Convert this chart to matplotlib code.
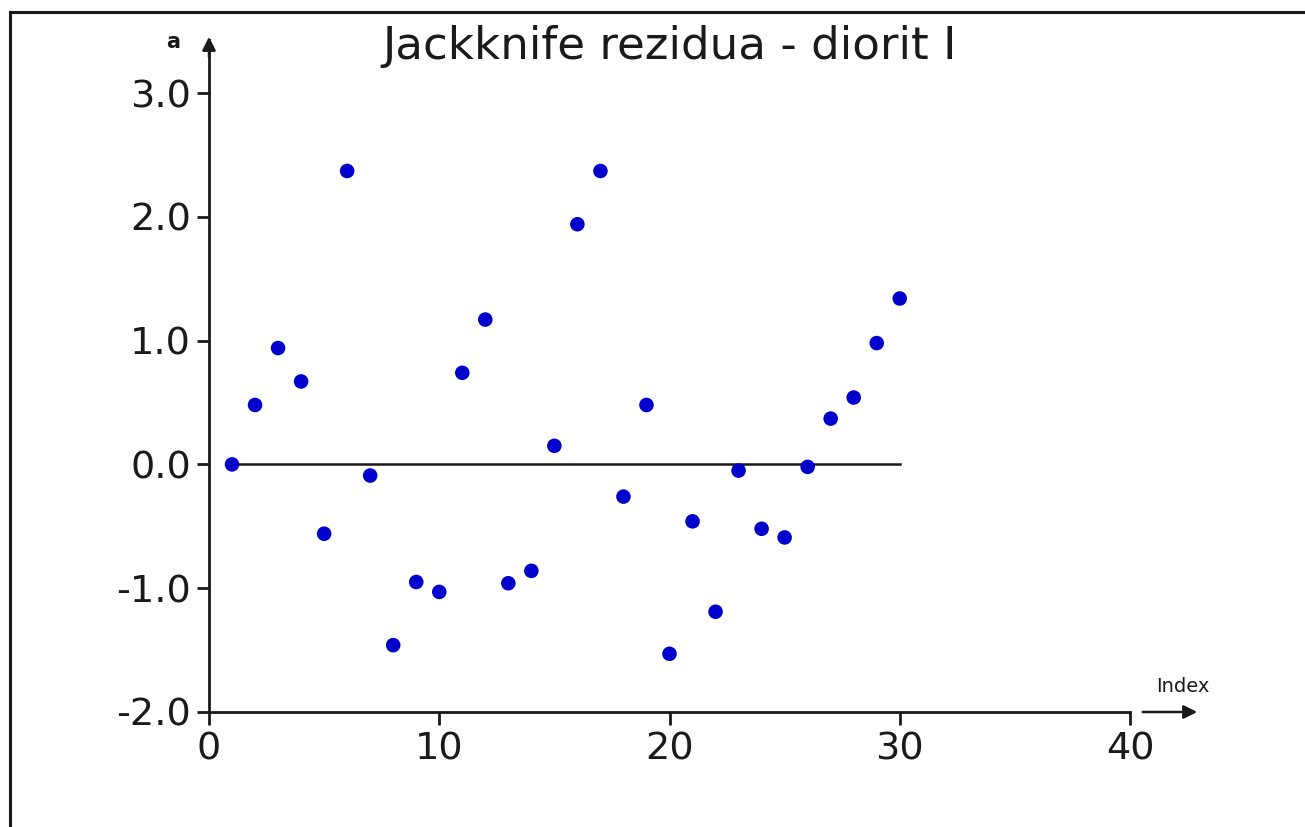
import matplotlib
matplotlib.use("Agg")
import matplotlib.pyplot as plt
from matplotlib.lines import Line2D

index = list(range(1, 31))
residua = [0.00, 0.48, 0.94, 0.67, -0.56, 2.37, -0.09, -1.46, -0.95, -1.03,
           0.74, 1.17, -0.96, -0.86, 0.15, 1.94, 2.37, -0.26, 0.48, -1.53,
           -0.46, -1.19, -0.05, -0.52, -0.59, -0.02, 0.37, 0.54, 0.98, 1.34]
xticks = [0, 10, 20, 30, 40]
yticks = [-2.0, -1.0, 0.0, 1.0, 2.0, 3.0]
title = "Jackknife rezidua - diorit I"

plt.rcParams['font.family'] = ['DejaVu Sans']

W, H = 1305, 827
fig = plt.figure(figsize=(W / 100, H / 100), dpi=100)
ax = fig.add_axes([209 / W, 1 - 712 / H, 921 / W, 619 / H])

ax.axhline(0, xmin=1 / 40, xmax=30 / 40, color='#1a1a1a', lw=1.8, zorder=2)
ax.scatter(index, residua, s=110, color='#0000cc', edgecolors='none', zorder=3)

ax.set_xlim(0, 40)
ax.set_ylim(-2, 3)
ax.set_xticks(xticks)
ax.set_xticklabels([str(t) for t in xticks])
ax.set_yticks(yticks)
ax.set_yticklabels([f"{t:.1f}" for t in yticks])
for s in ['top', 'right']:
    ax.spines[s].set_visible(False)
for s in ['left', 'bottom']:
    ax.spines[s].set_linewidth(2.0)
    ax.spines[s].set_color('#1a1a1a')
ax.tick_params(direction='out', length=9, width=2.0, color='#1a1a1a',
               labelsize=27.5, labelcolor='#1a1a1a')
ax.tick_params(axis='y', pad=4)
ax.tick_params(axis='x', pad=5)

# axis arrows
fig.add_artist(Line2D([209 / W, 209 / W], [1 - 93 / H, 1 - 40 / H],
                      color='#1a1a1a', lw=2.0))
ax.annotate('', xy=(209 / W, 1 - 34 / H), xytext=(209 / W, 1 - 60 / H),
            xycoords='figure fraction',
            arrowprops=dict(arrowstyle='-|>', color='#1a1a1a', lw=1.8,
                            mutation_scale=20))
ax.annotate('', xy=(1200 / W, 1 - 712 / H), xytext=(1140 / W, 1 - 712 / H),
            xycoords='figure fraction',
            arrowprops=dict(arrowstyle='-|>', color='#1a1a1a', lw=1.8,
                            mutation_scale=20))
fig.text(173 / W, 1 - 42 / H, 'a', fontsize=15, fontweight='bold',
         color='#1a1a1a', ha='center', va='center')
fig.text(1183 / W, 1 - 686 / H, 'Index', fontsize=14, color='#1a1a1a',
         ha='center', va='center')

fig.text(670 / W, 1 - 47 / H, title, fontsize=32.5, color='#1a1a1a',
         ha='center', va='center')

# figure frame (left and top)
fig.add_artist(Line2D([10 / W, 10 / W], [0, 1 - 12 / H], color='#1a1a1a', lw=2.2))
fig.add_artist(Line2D([10 / W, 1], [1 - 12 / H, 1 - 12 / H], color='#1a1a1a', lw=2.2))

fig.savefig('out.png', dpi=100)
